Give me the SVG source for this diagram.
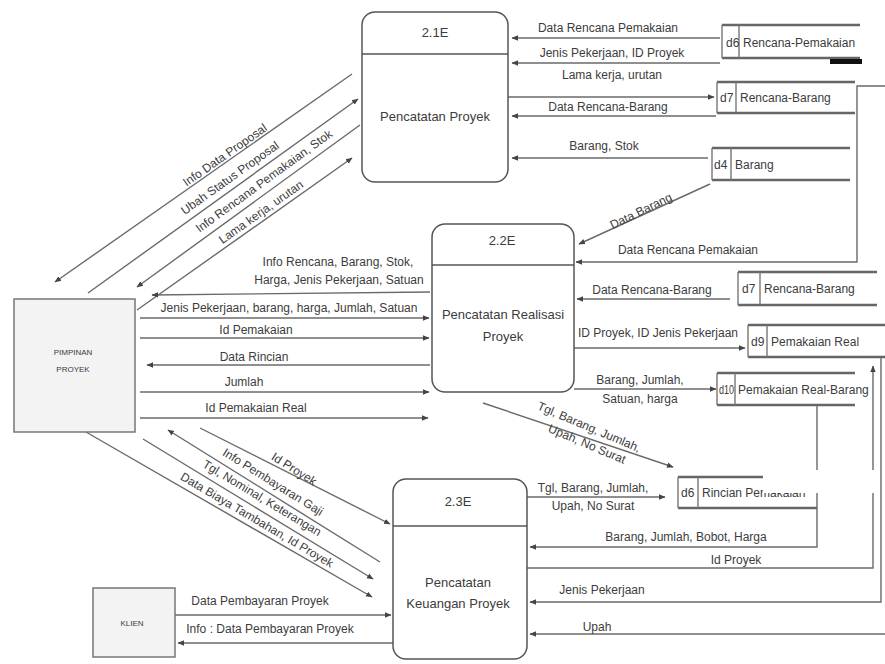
<svg xmlns="http://www.w3.org/2000/svg" width="885" height="664" viewBox="0 0 885 664">
<style>
.ln{stroke:#6a6a6a;stroke-width:1.4;fill:none}
.ar{marker-end:url(#ah)}
.t{font-family:"Liberation Sans",Arial,sans-serif;font-size:12px;fill:#3c3c3c}
.m{text-anchor:middle}
.p{font-size:13px}
.s{font-size:8px}
.box{fill:#fff;stroke:#555;stroke-width:1.5}
.ext{fill:#f3f3f3;stroke:#777;stroke-width:1.5}
.sl{stroke:#666;stroke-width:2.4;fill:none}
.sv{stroke:#777;stroke-width:1.4;fill:none}
</style>
<defs>
<marker id="ah" markerWidth="8" markerHeight="8" refX="6" refY="3.5" orient="auto" markerUnits="userSpaceOnUse"><path d="M0,0.8 L6.5,3.5 L0,6.2 z" fill="#444"/></marker>
</defs>
<rect width="885" height="664" fill="#fff"/>

<g id="connectors">
<!-- 2.1E right side -->
<line class="ln ar" x1="720" y1="38" x2="512" y2="38"/>
<line class="ln ar" x1="720" y1="63" x2="512" y2="63"/>
<line class="ln ar" x1="508" y1="97" x2="714" y2="97"/>
<line class="ln ar" x1="716" y1="116" x2="512" y2="116"/>
<line class="ln ar" x1="708" y1="158" x2="512" y2="158"/>
<line class="ln ar" x1="710" y1="184" x2="579" y2="244"/>
<!-- PIMPINAN <-> 2.1E -->
<line class="ln ar" x1="352" y1="74" x2="55" y2="282"/>
<line class="ln ar" x1="88" y1="293" x2="358" y2="99"/>
<line class="ln ar" x1="360" y1="125" x2="137" y2="287"/>
<line class="ln ar" x1="137" y1="310" x2="352" y2="158"/>
<!-- 2.2E right side -->
<polyline class="ln ar" points="885,86 857,86 857,262 576,262"/>
<line class="ln ar" x1="730" y1="299" x2="577" y2="299"/>
<line class="ln ar" x1="574" y1="348" x2="745" y2="348"/>
<line class="ln ar" x1="574" y1="389" x2="716" y2="389"/>
<line class="ln ar" x1="483" y1="403" x2="673" y2="467"/>
<!-- PIMPINAN <-> 2.2E -->
<line class="ln ar" x1="430" y1="292" x2="152" y2="295"/>
<line class="ln ar" x1="140" y1="318" x2="429" y2="318"/>
<line class="ln ar" x1="140" y1="338" x2="429" y2="338"/>
<line class="ln ar" x1="430" y1="365" x2="147" y2="365"/>
<line class="ln ar" x1="140" y1="392" x2="429" y2="392"/>
<line class="ln ar" x1="140" y1="418" x2="428" y2="418"/>
<!-- PIMPINAN <-> 2.3E -->
<line class="ln ar" x1="200" y1="428" x2="390" y2="524"/>
<line class="ln ar" x1="380" y1="562" x2="168" y2="430"/>
<line class="ln ar" x1="143" y1="439" x2="373" y2="579"/>
<line class="ln ar" x1="86" y1="432" x2="372" y2="597"/>
<!-- 2.3E right side -->
<line class="ln ar" x1="527" y1="497" x2="665" y2="497"/>
<polyline class="ln ar" points="817,405 817,547 530,547"/>
<polyline class="ln ar" points="527,568 873,568 873,366"/>
<polyline class="ln ar" points="881,358 881,602 530,602"/>
<line class="ln ar" x1="885" y1="634" x2="530" y2="634"/>
<!-- KLIEN <-> 2.3E -->
<line class="ln ar" x1="175" y1="615" x2="391" y2="615"/>
<line class="ln ar" x1="393" y1="643" x2="178" y2="643"/>
</g>

<g id="labels" class="t">
<text class="t m" x="608" y="32">Data Rencana Pemakaian</text>
<text class="t m" x="612" y="57">Jenis Pekerjaan, ID Proyek</text>
<text class="t m" x="612" y="79">Lama kerja, urutan</text>
<text class="t m" x="608" y="111">Data Rencana-Barang</text>
<text class="t m" x="604" y="150">Barang, Stok</text>
<text class="t m" transform="translate(641,211) rotate(-26)" y="4">Data Barang</text>
<text class="t m" transform="translate(225,155) rotate(-35)" y="4">Info Data Proposal</text>
<text class="t m" transform="translate(230,178) rotate(-35.5)" y="4">Ubah Status Proposal</text>
<text class="t m" transform="translate(264,181) rotate(-36)" y="4">Info Rencana Pemakaian, Stok</text>
<text class="t m" transform="translate(261,212) rotate(-35.3)" y="4">Lama kerja, urutan</text>
<text class="t m" x="688" y="254">Data Rencana Pemakaian</text>
<text class="t m" x="652" y="294">Data Rencana-Barang</text>
<text class="t m" x="658" y="337">ID Proyek, ID Jenis Pekerjaan</text>
<text class="t m" x="640" y="384">Barang, Jumlah,</text>
<text class="t m" x="640" y="403">Satuan, harga</text>
<text class="t m" transform="translate(589,427) rotate(23)" y="4">Tgl, Barang, Jumlah,</text>
<text class="t m" transform="translate(587,444) rotate(23)" y="4">Upah, No Surat</text>
<text class="t m" x="338" y="266">Info Rencana, Barang, Stok,</text>
<text class="t m" x="339" y="284">Harga, Jenis Pekerjaan, Satuan</text>
<text class="t m" x="289" y="312">Jenis Pekerjaan, barang, harga, Jumlah, Satuan</text>
<text class="t m" x="256" y="334">Id Pemakaian</text>
<text class="t m" x="254" y="361">Data Rincian</text>
<text class="t m" x="244" y="386">Jumlah</text>
<text class="t m" x="256" y="412">Id Pemakaian Real</text>
<text class="t m" transform="translate(294,469) rotate(32)" y="4">Id Proyek</text>
<text class="t m" transform="translate(273,482) rotate(32)" y="4">Info Pembayaran Gaji</text>
<text class="t m" transform="translate(262,498) rotate(31)" y="4">Tgl, Nominal, Keterangan</text>
<text class="t m" transform="translate(257,520) rotate(30.5)" y="4">Data Biaya Tambahan, Id Proyek</text>
<text class="t m" x="593" y="492">Tgl, Barang, Jumlah,</text>
<text class="t m" x="593" y="510">Upah, No Surat</text>
<text class="t m" x="686" y="541">Barang, Jumlah, Bobot, Harga</text>
<text class="t m" x="736" y="564">Id Proyek</text>
<text class="t m" x="602" y="594">Jenis Pekerjaan</text>
<text class="t m" x="597" y="631">Upah</text>
<text class="t m" x="260" y="605">Data Pembayaran Proyek</text>
<text class="t m" x="270" y="633">Info : Data Pembayaran Proyek</text>
</g>

<g id="p21">
<rect class="box" x="362" y="12" width="146" height="170" rx="13"/>
<line class="sv" x1="362" y1="54" x2="508" y2="54" style="stroke:#555;stroke-width:1.5"/>
<text class="t p m" x="435" y="37">2.1E</text>
<text class="t p m" x="435" y="121">Pencatatan Proyek</text>
</g>
<g id="p22">
<rect class="box" x="432" y="224" width="142" height="168" rx="13"/>
<line class="sv" x1="432" y1="265" x2="574" y2="265" style="stroke:#555;stroke-width:1.5"/>
<text class="t p m" x="502" y="245">2.2E</text>
<text class="t p m" x="503" y="319">Pencatatan Realisasi</text>
<text class="t p m" x="503" y="341">Proyek</text>
</g>
<g id="p23">
<rect class="box" x="393" y="479" width="134" height="180" rx="13"/>
<line class="sv" x1="393" y1="526" x2="527" y2="526" style="stroke:#555;stroke-width:1.5"/>
<text class="t p m" x="458" y="506">2.3E</text>
<text class="t p m" x="458" y="587">Pencatatan</text>
<text class="t p m" x="458" y="608">Keuangan Proyek</text>
</g>
<g id="pimpinan">
<rect class="ext" x="14" y="299" width="121" height="133"/>
<text class="t s m" x="73" y="355">PIMPINAN</text>
<text class="t s m" x="73" y="372">PROYEK</text>
</g>
<g id="klien">
<rect class="ext" x="93" y="588" width="82" height="69"/>
<text class="t s m" x="132" y="626">KLIEN</text>
</g>

<g id="d6a">
<path class="sl" d="M722,25 H860 M722,58 H860"/>
<path class="sv" d="M722,25 V58 M739,25 V58"/>
<text class="t" x="726" y="47">d6</text>
<text class="t" x="743" y="47">Rencana-Pemakaian</text>
<rect x="830" y="59" width="32" height="5" fill="#111"/>
</g>
<g id="d7a">
<path class="sl" d="M717,82 H855 M717,113 H855"/>
<path class="sv" d="M717,82 V113 M736,82 V113"/>
<text class="t" x="720" y="102">d7</text>
<text class="t" x="740" y="102">Rencana-Barang</text>
</g>
<g id="d4">
<path class="sl" d="M712,148 H850 M712,180 H850"/>
<path class="sv" d="M712,148 V180 M731,148 V180"/>
<text class="t" x="714" y="169">d4</text>
<text class="t" x="735" y="169">Barang</text>
</g>
<g id="d7b">
<path class="sl" d="M738,272 H877 M738,305 H877"/>
<path class="sv" d="M738,272 V305 M760,272 V305"/>
<text class="t" x="742" y="293">d7</text>
<text class="t" x="764" y="293">Rencana-Barang</text>
</g>
<g id="d9">
<path class="sl" d="M748,325 H885 M748,357 H885"/>
<path class="sv" d="M748,325 V357 M767,325 V357"/>
<text class="t" x="751" y="346">d9</text>
<text class="t" x="771" y="346">Pemakaian Real</text>
</g>
<g id="d10">
<path class="sl" d="M717,373 H855 M717,405 H855"/>
<path class="sv" d="M717,373 V405 M735,373 V405"/>
<text class="t" x="719" y="394" textLength="15" lengthAdjust="spacingAndGlyphs">d10</text>
<text class="t" x="738" y="394">Pemakaian Real-Barang</text>
</g>
<g id="d6b">
<path class="sl" d="M678,477 H817 M678,508 H817"/>
<path class="sv" d="M678,477 V508 M698,477 V508"/>
<text class="t" x="681" y="497">d6</text>
<text class="t" x="702" y="497">Rincian Pemakaian</text>
</g>
<rect x="763" y="470" width="114" height="23" fill="#fff"/>
</svg>
